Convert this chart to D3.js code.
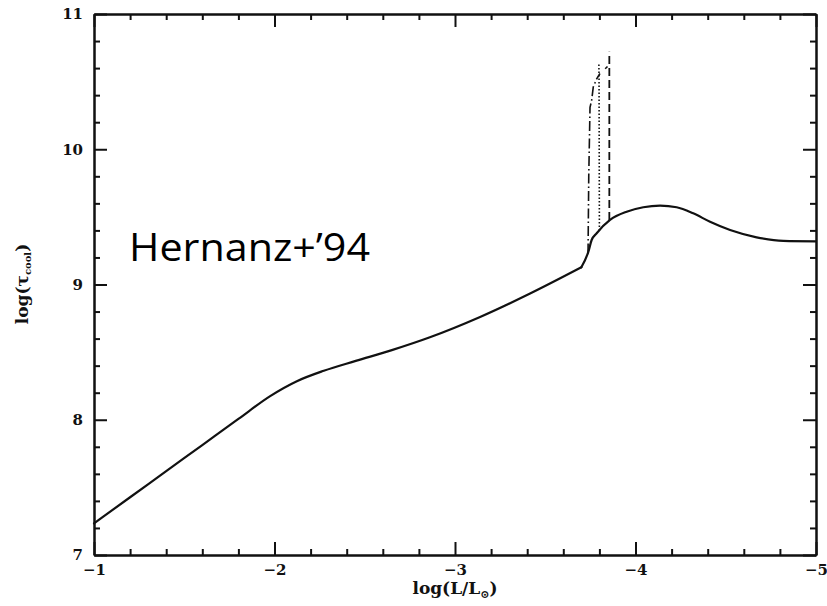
<!doctype html>
<html>
<head>
  <meta charset="utf-8">
  <style>
    body { margin: 0; background: #fff; }
    svg { display: block; }
  </style>
  <script src="https://cdn.jsdelivr.net/npm/d3@7"></script>
</head>
<body>
  <script>
  // main cooling curve, log(L/Lsun) vs log(tau_cool)
  var lum = [-1.0, -1.2, -1.4, -1.6, -1.8, -1.976, -2.124, -2.273, -2.45, -2.65,
             -2.861, -3.139, -3.416, -3.70, -3.739, -3.757, -3.785, -3.859, -3.951,
             -4.043, -4.136, -4.228, -4.320, -4.413, -4.524, -4.671, -4.819, -5.0];
  var tau = [7.234, 7.427, 7.620, 7.813, 8.006, 8.175, 8.285, 8.362, 8.435, 8.515,
             8.610, 8.760, 8.933, 9.127, 9.243, 9.329, 9.379, 9.477, 9.538,
             9.571, 9.583, 9.571, 9.526, 9.464, 9.403, 9.349, 9.322, 9.319];
  var kinkAt = -3.70; // curve has a corner here

  // the three vertical branches (dash-dot, dotted, dashed)
  var lumDashDot = [-3.737, -3.741, -3.748, -3.757, -3.766, -3.785, -3.803];
  var tauDashDot = [9.23, 9.80, 10.31, 10.36, 10.46, 10.52, 10.56];
  var lumDotted = [-3.800, -3.798, -3.797];
  var tauDotted = [9.40, 10.53, 10.64];
  var lumDashed = [-3.855, -3.855, -3.855];
  var tauDashed = [9.477, 10.60, 10.72];
  var lumHook = [-3.832, -3.845];
  var tauHook = [10.595, 10.612];

  var xMajor = [-1, -2, -3, -4, -5];
  var yMajor = [7, 8, 9, 10, 11];

  var W = 827, H = 606;
  var pL = 94, pR = 816, pT = 14, pB = 555;

  var svg = d3.select("body").append("svg")
    .attr("width", W)
    .attr("height", H);

  var x = d3.scaleLinear().domain([-1, -5]).range([pL, pR]);
  var y = d3.scaleLinear().domain([7, 11]).range([pB, pT]);

  var xMinor = d3.range(-1, -5.001, -0.2).filter(function(v) { return Math.abs(v - Math.round(v)) > 0.01; });
  var yMinor = d3.range(7, 11.001, 0.2).filter(function(v) { return Math.abs(v - Math.round(v)) > 0.01; });

  var fmt = d3.format("d");
  var tickFont = "'DejaVu Serif', 'Liberation Serif', serif";

  function styleAxis(g) {
    g.select(".domain").attr("stroke", "#111").attr("stroke-width", 2);
    g.selectAll(".tick line").attr("stroke", "#111").attr("stroke-width", 2);
    g.selectAll("text").attr("font-family", tickFont).attr("font-size", "15px")
      .attr("font-weight", "bold").attr("fill", "#111");
  }

  // bottom
  svg.append("g").attr("transform", "translate(0," + pB + ")")
    .call(d3.axisBottom(x).tickValues(xMinor).tickSize(-6).tickSizeOuter(0).tickFormat(""))
    .call(styleAxis);
  svg.append("g").attr("transform", "translate(0," + pB + ")")
    .call(d3.axisBottom(x).tickValues(xMajor).tickSize(-13).tickSizeOuter(0).tickPadding(9).tickFormat(fmt))
    .call(styleAxis);
  // top
  svg.append("g").attr("transform", "translate(0," + pT + ")")
    .call(d3.axisTop(x).tickValues(xMinor).tickSize(-6).tickSizeOuter(0).tickFormat(""))
    .call(styleAxis);
  svg.append("g").attr("transform", "translate(0," + pT + ")")
    .call(d3.axisTop(x).tickValues(xMajor).tickSize(-13).tickSizeOuter(0).tickFormat(""))
    .call(styleAxis);
  // left
  svg.append("g").attr("transform", "translate(" + pL + ",0)")
    .call(d3.axisLeft(y).tickValues(yMinor).tickSize(-6).tickSizeOuter(0).tickFormat(""))
    .call(styleAxis);
  svg.append("g").attr("transform", "translate(" + pL + ",0)")
    .call(d3.axisLeft(y).tickValues(yMajor).tickSize(-13).tickSizeOuter(0).tickPadding(11).tickFormat(fmt))
    .call(styleAxis);
  // right
  svg.append("g").attr("transform", "translate(" + pR + ",0)")
    .call(d3.axisRight(y).tickValues(yMinor).tickSize(-6).tickSizeOuter(0).tickFormat(""))
    .call(styleAxis);
  svg.append("g").attr("transform", "translate(" + pR + ",0)")
    .call(d3.axisRight(y).tickValues(yMajor).tickSize(-13).tickSizeOuter(0).tickFormat(""))
    .call(styleAxis);

  function pts(xs, ys) {
    return xs.map(function(d, i) { return [d, ys[i]]; });
  }

  var line = d3.line()
    .x(function(d) { return x(d[0]); })
    .y(function(d) { return y(d[1]); });

  // branches first, main curve on top
  svg.append("path")
    .datum(pts(lumDashDot, tauDashDot))
    .attr("d", line)
    .attr("fill", "none").attr("stroke", "#111").attr("stroke-width", 1.6)
    .attr("stroke-dasharray", "10,3,1.5,3");
  svg.append("path")
    .datum(pts(lumDotted, tauDotted))
    .attr("d", line)
    .attr("fill", "none").attr("stroke", "#111").attr("stroke-width", 1.6)
    .attr("stroke-dasharray", "1.5,2");
  svg.append("path")
    .datum(pts(lumDashed, tauDashed))
    .attr("d", line)
    .attr("fill", "none").attr("stroke", "#111").attr("stroke-width", 1.8)
    .attr("stroke-dasharray", "8,4");
  svg.append("path")
    .datum(pts(lumHook, tauHook))
    .attr("d", line)
    .attr("fill", "none").attr("stroke", "#111").attr("stroke-width", 1.6);

  // main curve in two smooth pieces joined at the corner
  var main = pts(lum, tau);
  var before = main.filter(function(d) { return d[0] >= kinkAt; });
  var after = main.filter(function(d) { return d[0] <= kinkAt; });
  var smooth = d3.line()
    .x(function(d) { return x(d[0]); })
    .y(function(d) { return y(d[1]); })
    .curve(d3.curveMonotoneX);
  svg.selectAll("path.main")
    .data([before, after])
    .enter().append("path")
    .attr("class", "main")
    .attr("d", smooth)
    .attr("fill", "none").attr("stroke", "#111").attr("stroke-width", 2.2)
    .attr("stroke-linejoin", "round").attr("stroke-linecap", "round");

  // axis titles
  var xt = svg.append("text")
    .attr("x", (pL + pR) / 2)
    .attr("y", 594)
    .attr("text-anchor", "middle")
    .attr("font-family", tickFont)
    .attr("font-size", "17px")
    .attr("font-weight", "bold")
    .attr("fill", "#111");
  xt.append("tspan").text("log(L/L");
  xt.append("tspan").attr("font-size", "11px").attr("dy", 4).text("\u2299");
  xt.append("tspan").attr("dy", -4).text(")");

  var yt = svg.append("text")
    .attr("transform", "translate(28,284) rotate(-90)")
    .attr("text-anchor", "middle")
    .attr("font-family", tickFont)
    .attr("font-size", "17px")
    .attr("font-weight", "bold")
    .attr("fill", "#111");
  yt.append("tspan").text("log(\u03C4");
  yt.append("tspan").attr("font-size", "10px").attr("dy", 3).text("cool");
  yt.append("tspan").attr("dy", -3).text(")");

  // annotation
  svg.append("text")
    .attr("x", 129)
    .attr("y", 261)
    .attr("font-family", "'Open Sans', 'Noto Sans', sans-serif")
    .attr("font-size", "39px")
    .attr("textLength", 241)
    .attr("lengthAdjust", "spacingAndGlyphs")
    .attr("fill", "#000")
    .text("Hernanz+\u201994");
  </script>
</body>
</html>
